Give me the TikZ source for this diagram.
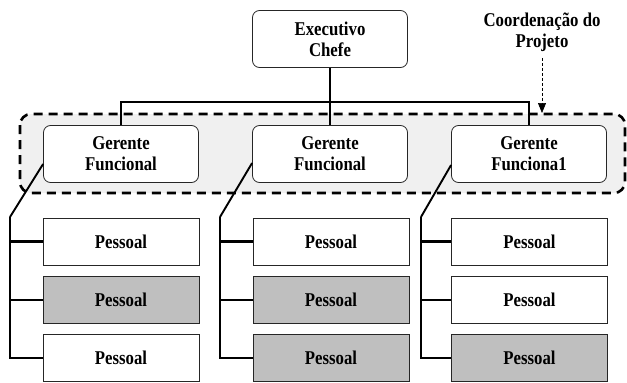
\documentclass[tikz,border=0pt]{standalone}
\usepackage{fontspec}
\setmainfont[FakeStretch=0.86]{Liberation Serif}
\usetikzlibrary{arrows.meta}
\begin{document}
\begin{tikzpicture}[x=1pt,y=-1pt,
  font=\fontsize{19.5}{21}\selectfont\bfseries,
  roundbox/.style={draw=black!85,line width=0.8pt,rounded corners=7pt,fill=white,
    minimum width=155pt,minimum height=57pt,align=center,inner sep=0pt},
  staffbox/.style={draw=black!85,line width=0.8pt,fill=white,
    minimum width=156pt,minimum height=47pt,inner sep=0pt},
  shaded/.style={fill=black!25},
  conn/.style={line width=2.8pt},
  slant/.style={line width=1.9pt},
  groupline/.style={line width=2.6pt,dash pattern=on 9pt off 6pt,
    rounded corners=11pt,fill=black!6},
  note/.style={line width=0.7pt,dash pattern=on 3pt off 2pt}]
\useasboundingbox (0,0) rectangle (627,383);

% dashed grouping around the functional managers
\coordinate (grpA) at (20,114);
\coordinate (grpB) at (625,193);
\draw[groupline] (grpA) rectangle (grpB);

% top of the hierarchy
\node[roundbox] (ex) at (330,39) {Executivo\\Chefe};

% functional managers
\node[roundbox] (g1) at (121,154) {Gerente\\Funcional};
\node[roundbox] (g2) at (330,154) {Gerente\\Funcional};
\node[roundbox] (g3) at (529,154) {Gerente\\Funciona1};

% staff columns
\node[staffbox]        (p11) at (121,241.5) {Pessoal};
\node[staffbox,shaded] (p12) at (121,300)   {Pessoal};
\node[staffbox]        (p13) at (121,358)   {Pessoal};
\node[staffbox]        (p21) at (331,241.5) {Pessoal};
\node[staffbox,shaded] (p22) at (331,300)   {Pessoal};
\node[staffbox,shaded] (p23) at (331,358)   {Pessoal};
\node[staffbox]        (p31) at (529.5,241.5) {Pessoal};
\node[staffbox]        (p32) at (529.5,300)   {Pessoal};
\node[staffbox,shaded] (p33) at (529.5,358)   {Pessoal};

% reporting lines from the chief
\coordinate (bar) at (330,102);
\draw[conn] (ex.south) -- (g2.north);
\draw[conn] (g1.north) |- (bar) -| (g3.north);

% brackets from each manager to its staff
\coordinate (k1) at (10,217);
\coordinate (k2) at (220,217);
\coordinate (k3) at (421,217);
\draw[slant] ([yshift=-10pt]g1.west) -- (k1);
\draw[slant] ([yshift=-9pt]g2.west) -- (k2);
\draw[slant] ([yshift=-11pt]g3.west) -- (k3);
\draw[conn,line join=miter] (k1) |- (p13.west);
\draw[conn] (k1 |- p11) -- (p11.west);
\draw[conn] (k1 |- p12) -- (p12.west);
\draw[conn,line join=miter] (k2) |- (p23.west);
\draw[conn] (k2 |- p21) -- (p21.west);
\draw[conn] (k2 |- p22) -- (p22.west);
\draw[conn,line join=miter] (k3) |- (p33.west);
\draw[conn] (k3 |- p31) -- (p31.west);
\draw[conn] (k3 |- p32) -- (p32.west);

% project coordination label
\node[align=center] (coord) at (542,32) {Coordenação do\\Projeto};
\coordinate (coordtip) at (542,113);
\draw[note,-{Triangle[width=8pt,length=10pt]}] ([yshift=-3pt]coord.south) -- (coordtip);
\end{tikzpicture}
\end{document}
